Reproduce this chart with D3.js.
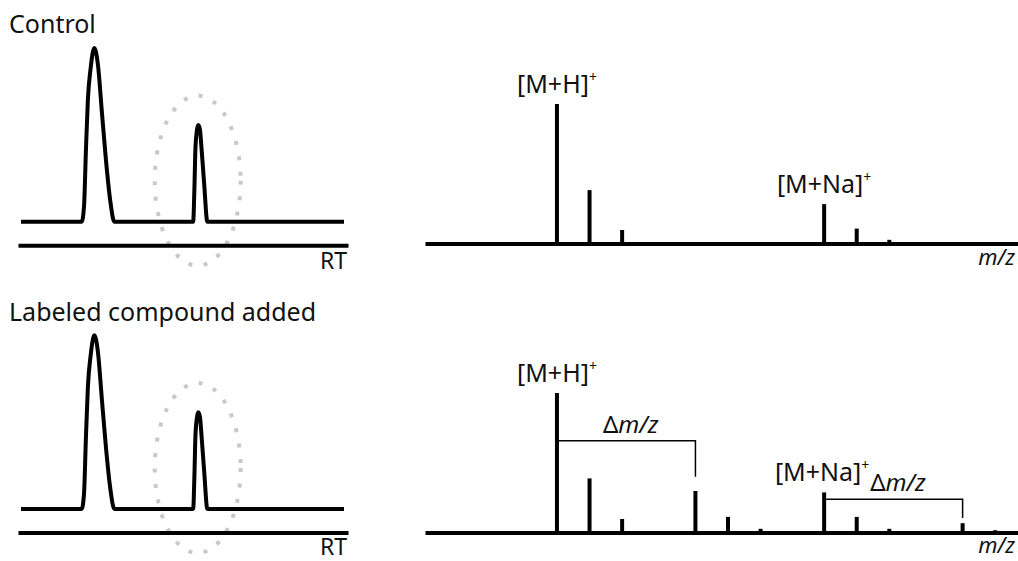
<!DOCTYPE html>
<html>
<head>
<meta charset="utf-8">
<script src="https://cdnjs.cloudflare.com/ajax/libs/d3/7.8.5/d3.min.js"></script>
<style>
    body { margin: 0; background: #ffffff; }
    svg { display: block; font-family: "Noto Sans", sans-serif; }
</style>
</head>
<body>
<div id="chart"></div>
<script>
// panel titles
const panelTitles = ["Control", "Labeled compound added"];

// chromatogram trace (same run drawn in both panels)
const chromRT = [0, 1.88, 1.95, 2.01, 2.07, 2.16, 2.27, 2.39, 2.50, 2.63, 2.76, 2.89,
    5.33, 5.37, 5.40, 5.45, 5.49, 5.54, 5.59, 5.67, 5.77, 10];
const chromIntensity = [0, 0, 8.5, 41, 70, 89, 100, 89, 64, 35.5, 12.5, 0,
    0, 20, 42, 53, 55.7, 53, 42, 22, 0, 0];

// dotted ring around the second peak (centre RT / intensity, half sizes)
const ringRT = 5.47, ringIntensity = 23.6, ringHalfRT = 1.33, ringHalfIntensity = 48.9;

// mass spectra
const controlMz = [100, 101, 102, 108.2, 109.2, 110.2];
const controlAbund = [100, 38.5, 10, 28.5, 11, 3];
const labeledMz = [100, 101, 102, 104.25, 105.25, 106.25, 108.2, 109.2, 110.2, 112.45, 113.45];
const labeledAbund = [100, 39, 10, 30, 11.5, 3, 29, 11.5, 3, 7, 2];

// ion labels
const ionNames = ["[M+H]", "[M+Na]"];
const ionMz = [100, 108.2];

// mass shift brackets in the labeled spectrum
const shiftFrom = [100, 108.2];
const shiftTo = [104.25, 112.45];
const shiftLevel = [65.9, 24.1];
const shiftEnd = [40.2, 10.7];

const axisTitles = {chrom: "RT", spec: "m/z"};

let width = 1018, height = 561;

let svg = d3.select("#chart").append("svg")
    .attr("width", width)
    .attr("height", height);

// scales
let chromX = d3.scaleLinear().domain([0, 10]).range([21, 344]);
let chromAxisX = d3.scaleLinear().domain([0, 10]).range([18, 348]);
let chromY = d3.scaleLinear().domain([0, 100]).range([221.7, 48]);

let specX = d3.scaleLinear().domain([95.95, 114.15]).range([425, 1018]);
let specY = d3.scaleLinear().domain([0, 100]).range([244, 104]);

let chromOffset = [0, 287.3];
let specOffset = [0, 289];

let chromLine = d3.line()
    .x((d, i) => chromX(chromRT[i]))
    .y(d => chromY(d))
    .curve(d3.curveMonotoneX);

panelTitles.forEach((title, p) => {

    //chromatogram panel
    let cg = svg.append("g")
        .attr("transform", "translate(0," + chromOffset[p] + ")");

    cg.append("text")
        .attr("x", 9)
        .attr("y", 33 + (p ? 1.1 : 0))
        .attr("font-size", 25)
        .attr("fill", "#111")
        .text(title);

    cg.append("ellipse")
        .attr("cx", chromX(ringRT))
        .attr("cy", chromY(ringIntensity))
        .attr("rx", chromX(ringRT + ringHalfRT) - chromX(ringRT))
        .attr("ry", chromY(0) - chromY(ringHalfIntensity))
        .attr("fill", "none")
        .attr("stroke", "#c8c8c8")
        .attr("stroke-width", 4)
        .attr("stroke-dasharray", "4,11.5");

    let chromAxis = d3.axisBottom(chromAxisX).tickValues([]).tickSizeOuter(0);
    cg.append("g")
        .attr("transform", "translate(0," + 245.2 + ")")
        .call(chromAxis)
        .select(".domain")
        .attr("stroke", "#000")
        .attr("stroke-width", 4);

    cg.append("path")
        .datum(chromIntensity)
        .attr("d", chromLine)
        .attr("fill", "none")
        .attr("stroke", "#000")
        .attr("stroke-width", 4)
        .attr("stroke-linejoin", "round");

    cg.append("text")
        .attr("x", 347)
        .attr("y", p ? 267.5 : 269)
        .attr("text-anchor", "end")
        .attr("font-size", 23)
        .attr("fill", "#111")
        .text(axisTitles.chrom);

    //spectrum panel
    let sg = svg.append("g")
        .attr("transform", "translate(0," + specOffset[p] + ")");

    let mz = p ? labeledMz : controlMz;
    let ab = p ? labeledAbund : controlAbund;

    let specAxis = d3.axisBottom(specX).tickValues([]).tickSizeOuter(0);
    sg.append("g")
        .attr("transform", "translate(0," + (specY(0) - 0.5) + ")")
        .call(specAxis)
        .select(".domain")
        .attr("stroke", "#000")
        .attr("stroke-width", 4);

    sg.selectAll(".peak")
        .data(ab)
        .enter()
        .append("line")
        .attr("class", "peak")
        .attr("x1", (d, i) => specX(mz[i]))
        .attr("x2", (d, i) => specX(mz[i]))
        .attr("y1", specY(0))
        .attr("y2", d => specY(d))
        .attr("stroke", "#000")
        .attr("stroke-width", 4);

    // ion labels
    ionNames.forEach((name, k) => {
        let i = mz.indexOf(ionMz[k]);
        let t = sg.append("text")
            .attr("x", specX(ionMz[k]) - (p && k ? 2 : 0))
            .attr("y", specY(ab[i]) - 11)
            .attr("text-anchor", "middle")
            .attr("font-size", 25)
            .attr("fill", "#111");
        t.append("tspan").text(name);
        t.append("tspan")
            .attr("font-size", 14)
            .attr("dy", -11)
            .text("+");
    });

    if (p) {
        shiftFrom.forEach((m, k) => {
            let x1 = specX(m), x2 = specX(shiftTo[k]);
            sg.append("path")
                .attr("d", "M" + (x1 + 2) + "," + specY(shiftLevel[k]) +
                    "H" + x2 + "V" + specY(shiftEnd[k]))
                .attr("fill", "none")
                .attr("stroke", "#000")
                .attr("stroke-width", 1.5);
            let dt = sg.append("text")
                .attr("x", x1 + 46)
                .attr("y", specY(shiftLevel[k]) - 8)
                .attr("font-size", 24)
                .attr("fill", "#111");
            dt.append("tspan").text("Δ");
            dt.append("tspan").attr("font-style", "italic").text(axisTitles.spec);
        });
    }

    sg.append("text")
        .attr("x", 1015)
        .attr("y", p ? 264 : 265)
        .attr("text-anchor", "end")
        .attr("font-size", 22)
        .attr("font-style", "italic")
        .attr("fill", "#111")
        .text(axisTitles.spec);
});
</script>
</body>
</html>
